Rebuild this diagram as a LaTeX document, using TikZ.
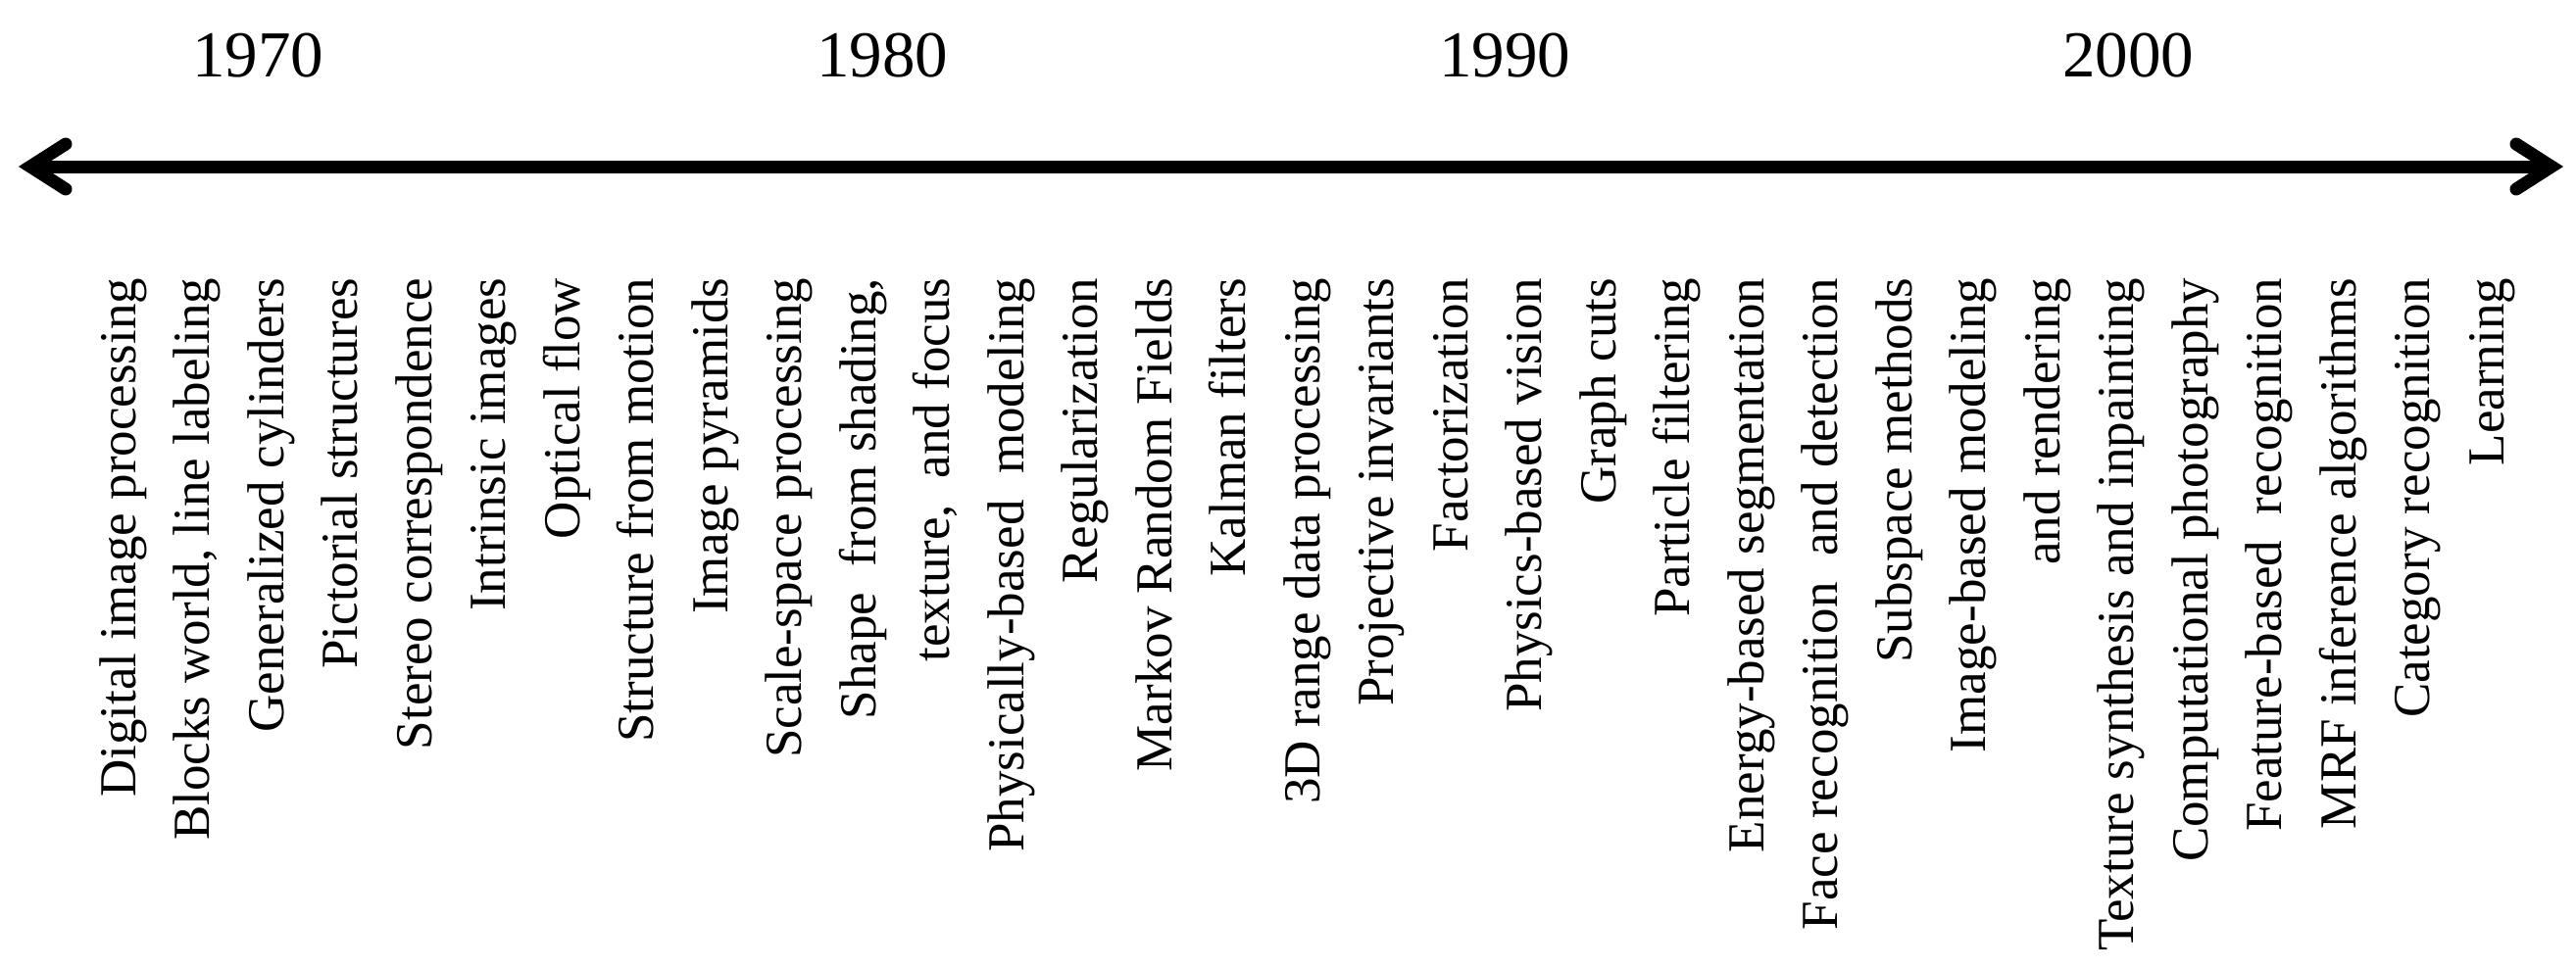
\documentclass[tikz,border=0pt]{standalone}
\usepackage{fontspec}
\setmainfont{Liberation Serif}
\usetikzlibrary{calc}
\begin{document}
\begin{tikzpicture}[x=0.25pt,y=-0.25pt,
  lbl/.style={rotate=90,anchor=base east,inner sep=0pt,font=\fontsize{13.25pt}{15pt}\selectfont},
  yr/.style={anchor=base,inner sep=0pt,font=\fontsize{16.75pt}{20pt}\selectfont},
  axisline/.style={line width=3.25pt},
  headline/.style={line width=3.25pt,line cap=round,line join=miter}]
\useasboundingbox (0,0) rectangle (2628,987);
% years
\node[yr] (y1970) at (263,78) {1970};
\node[yr] (y1980) at (900,78) {1980};
\node[yr] (y1990) at (1535,78) {1990};
\node[yr] (y2000) at (2171,78) {2000};
% double-headed axis
\coordinate (L) at (31,170);
\coordinate (R) at (2603,170);
\draw[axisline] (L) -- (R);
\draw[headline] ($(L)+(36,-23)$) -- (L) -- ($(L)+(36,23)$);
\draw[headline] ($(R)+(-36,-23)$) -- (R) -- ($(R)+(-36,23)$);
% topics
\foreach \t [count=\i from 0] in {
  Digital image processing,
  {Blocks world, line labeling},
  Generalized cylinders,
  Pictorial structures,
  Stereo correspondence,
  Intrinsic images,
  Optical flow,
  Structure from motion,
  Image pyramids,
  Scale-space processing,
  {Shape\ \ from shading,},
  {texture,\ \ and focus},
  Physically-based\ \ modeling,
  Regularization,
  Markov Random Fields,
  Kalman filters,
  3D range data processing,
  Projective invariants,
  Factorization,
  Physics-based vision,
  Graph cuts,
  Particle filtering,
  Energy-based segmentation,
  Face recognition\ \ and detection,
  Subspace methods,
  Image-based modeling,
  and rendering,
  Texture synthesis and inpainting,
  Computational photography,
  Feature-based\ \ recognition,
  MRF inference algorithms,
  Category recognition,
  Learning}
  \node[lbl] (t\i) at ({138+75.5*\i},283) {\t};
\end{tikzpicture}
\end{document}
